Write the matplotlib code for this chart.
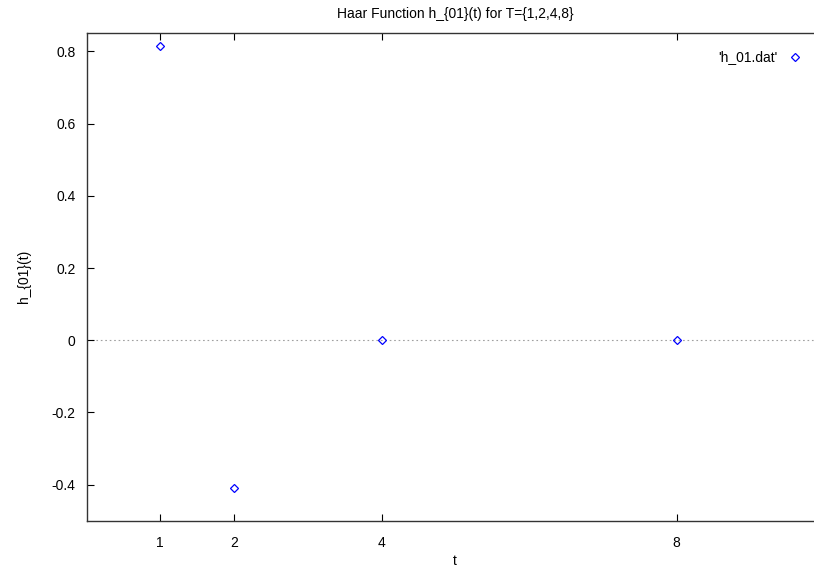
import numpy as np
import matplotlib
matplotlib.use("Agg")
import matplotlib.pyplot as plt

# data
t = [1, 2, 4, 8]
h01 = [0.8165, -0.4082, 0.0, 0.0]
xticks = [1, 2, 4, 8]
yticks = [-0.4, -0.2, 0, 0.2, 0.4, 0.6, 0.8]

plt.rcParams['font.family'] = ['Liberation Sans', 'DejaVu Sans']
plt.rcParams['font.size'] = 10

fig = plt.figure(figsize=(8.14, 5.67), dpi=100)
# right border of the gnuplot frame falls just outside the picture
ax = fig.add_axes([0.1063, 0.0817, 0.906, 0.860])

ax.axhline(0, color='#a0a0a0', linestyle=(0, (1.5, 2.5)), linewidth=0.8, zorder=1)
ax.plot(t, h01, linestyle='none', marker='D', markersize=4.0,
        markerfacecolor='none', markeredgecolor='#0000ff', markeredgewidth=0.9,
        label="'h_01.dat'", zorder=3)

ax.set_xlim(0, 10)
ax.set_ylim(-0.5, 0.851)
ax.set_xticks(xticks)
ax.set_xticklabels([str(v) for v in xticks])
ax.set_yticks(yticks)
ax.set_yticklabels(['-0.4', '-0.2', '0', '0.2', '0.4', '0.6', '0.8'])
ax.tick_params(direction='in', length=5, width=0.8, top=True, right=False,
               labelsize=10)
ax.tick_params(axis='x', pad=11)
ax.tick_params(axis='y', pad=8)

for s in ax.spines.values():
    s.set_linewidth(1.0)
    s.set_color('#333333')

ax.set_title('Haar Function h_{01}(t) for T={1,2,4,8}', fontsize=10, pad=11)
ax.set_xlabel('t', labelpad=3)
ax.set_ylabel('h_{01}(t)', labelpad=15)

leg = ax.legend(loc='upper right', bbox_to_anchor=(0.9875, 0.99), frameon=False,
                markerfirst=False, handletextpad=0.8, handlelength=1.0,
                fontsize=10)

fig.savefig('out.png', dpi=100)
